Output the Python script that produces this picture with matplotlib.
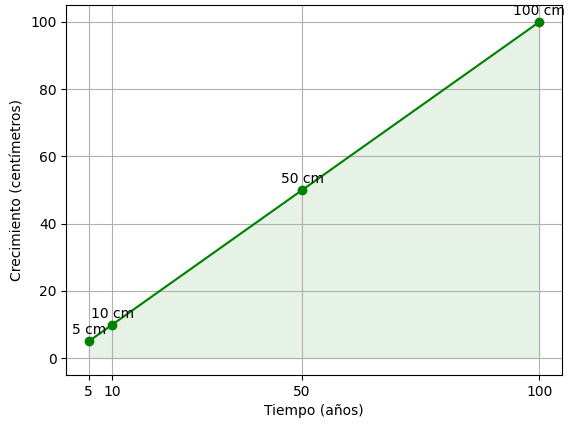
import matplotlib
matplotlib.use("Agg")
import matplotlib.pyplot as plt

# datos: tiempo (años) y crecimiento (cm)
tiempo = [5, 10, 50, 100]
crecimiento = [5, 10, 50, 100]
etiquetas = ["5 cm", "10 cm", "50 cm", "100 cm"]

fig, ax = plt.subplots(figsize=(5.75, 4.28), dpi=100)

ax.plot(tiempo, crecimiento, marker='o', color='green')
ax.fill_between(tiempo, crecimiento, color='green', alpha=0.1)

for x, y, txt in zip(tiempo, crecimiento, etiquetas):
    ax.annotate(txt, (x, y), xytext=(0, 5), textcoords="offset points", ha='center')

ax.set_xticks(tiempo)
ax.set_xlabel("Tiempo (años)")
ax.set_ylabel("Crecimiento (centímetros)")
ax.grid(True)

fig.subplots_adjust(left=0.115, right=0.977, top=0.988, bottom=0.124)
plt.savefig("out.png", dpi=100)
